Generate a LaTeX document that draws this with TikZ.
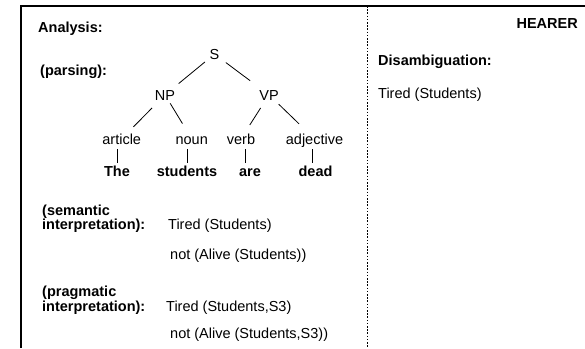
\documentclass[tikz,border=0pt]{standalone}
\usepackage{fontspec}
\setmainfont{Liberation Sans}
\begin{document}
\begin{tikzpicture}[x=1pt,y=-1pt,
  every node/.style={inner sep=0pt, font=\fontsize{14.5}{15}\selectfont},
  lbl/.style={anchor=base west},
  bld/.style={font=\fontsize{14.5}{15}\selectfont\bfseries},
  tree/.style={anchor=base, text height=10.4pt, text depth=0pt},
  branch/.style={line width=0.8pt},
  frame/.style={line width=1.2pt},
  divider/.style={line width=1pt, dash pattern=on 1.6pt off 1.6pt}]
\useasboundingbox (0,0) rectangle (585,348);
% frame
\coordinate (tl) at (21,6);
\coordinate (tr) at (585,6);
\coordinate (bl) at (21,348);
\coordinate (dt) at (367,6);
\coordinate (db) at (367,348);
\draw[frame] (bl) -- (tl) -- (tr);
\draw[divider] (dt) -- (db);
% left labels
\node[lbl,bld] (analysis) at (38,32) {Analysis:};
\node[lbl,bld] (parsing) at (40,75) {(parsing):};
\node[lbl,bld] (sem1) at (42,215) {(semantic};
\node[lbl,bld] (sem2) at (42,229) {interpretation):};
\node[lbl] (sema) at (168,229) {Tired (Students)};
\node[lbl] (semb) at (170,259) {not (Alive (Students))};
\node[lbl,bld] (prag1) at (42,296) {(pragmatic};
\node[lbl,bld] (prag2) at (42,311) {interpretation):};
\node[lbl] (praga) at (166,311) {Tired (Students,S3)};
\node[lbl] (pragb) at (170,338) {not (Alive (Students,S3))};
% right side
\node[anchor=base east,bld] (hearer) at (578,28) {HEARER};
\node[lbl,bld] (disamb) at (378,65) {Disambiguation:};
\node[lbl] (tired) at (378,98) {Tired (Students)};
% tree
\node[tree] (S) at (214.5,59.3) {S};
\node[tree] (NP) at (165,100) {NP};
\node[tree] (VP) at (269,100) {VP};
\node[tree] (article) at (121.7,144) {article};
\node[tree] (noun) at (191.7,144) {noun};
\node[tree] (verb) at (241,144) {verb};
\node[tree] (adjective) at (314.5,144) {adjective};
\node[tree,bld] (The) at (117,176) {The};
\node[tree,bld] (students) at (187,176) {students};
\node[tree,bld] (are) at (250,176) {are};
\node[tree,bld] (dead) at (315.5,176) {dead};
\draw[branch, shorten <=5.8pt, shorten >=9.2pt] (S) -- (NP);
\draw[branch, shorten <=7.9pt, shorten >=14.5pt] (S) -- (VP);
\draw[branch, shorten <=10.8pt, shorten >=9.2pt] (NP) -- (article);
\draw[branch, shorten <=3.7pt, shorten >=11.5pt] (NP) -- (noun);
\draw[branch, shorten <=9.2pt, shorten >=10pt] (VP) -- (verb);
\draw[branch, shorten <=5.7pt, shorten >=13.8pt] (VP) -- (adjective);
\draw[branch, shorten <=5pt, shorten >=2.6pt] (The.north |- article.south) -- (The.north);
\draw[branch, shorten <=5pt, shorten >=2.6pt] (students.north |- noun.south) -- (students.north);
\draw[branch, shorten <=5pt, shorten >=2.6pt] ([xshift=-4.3pt]are.north |- verb.south) -- ([xshift=-4.3pt]are.north);
\draw[branch, shorten <=5pt, shorten >=2.6pt] ([xshift=-2pt]adjective.south) -- ([xshift=-2pt]adjective.south |- dead.north);
\end{tikzpicture}
\end{document}
